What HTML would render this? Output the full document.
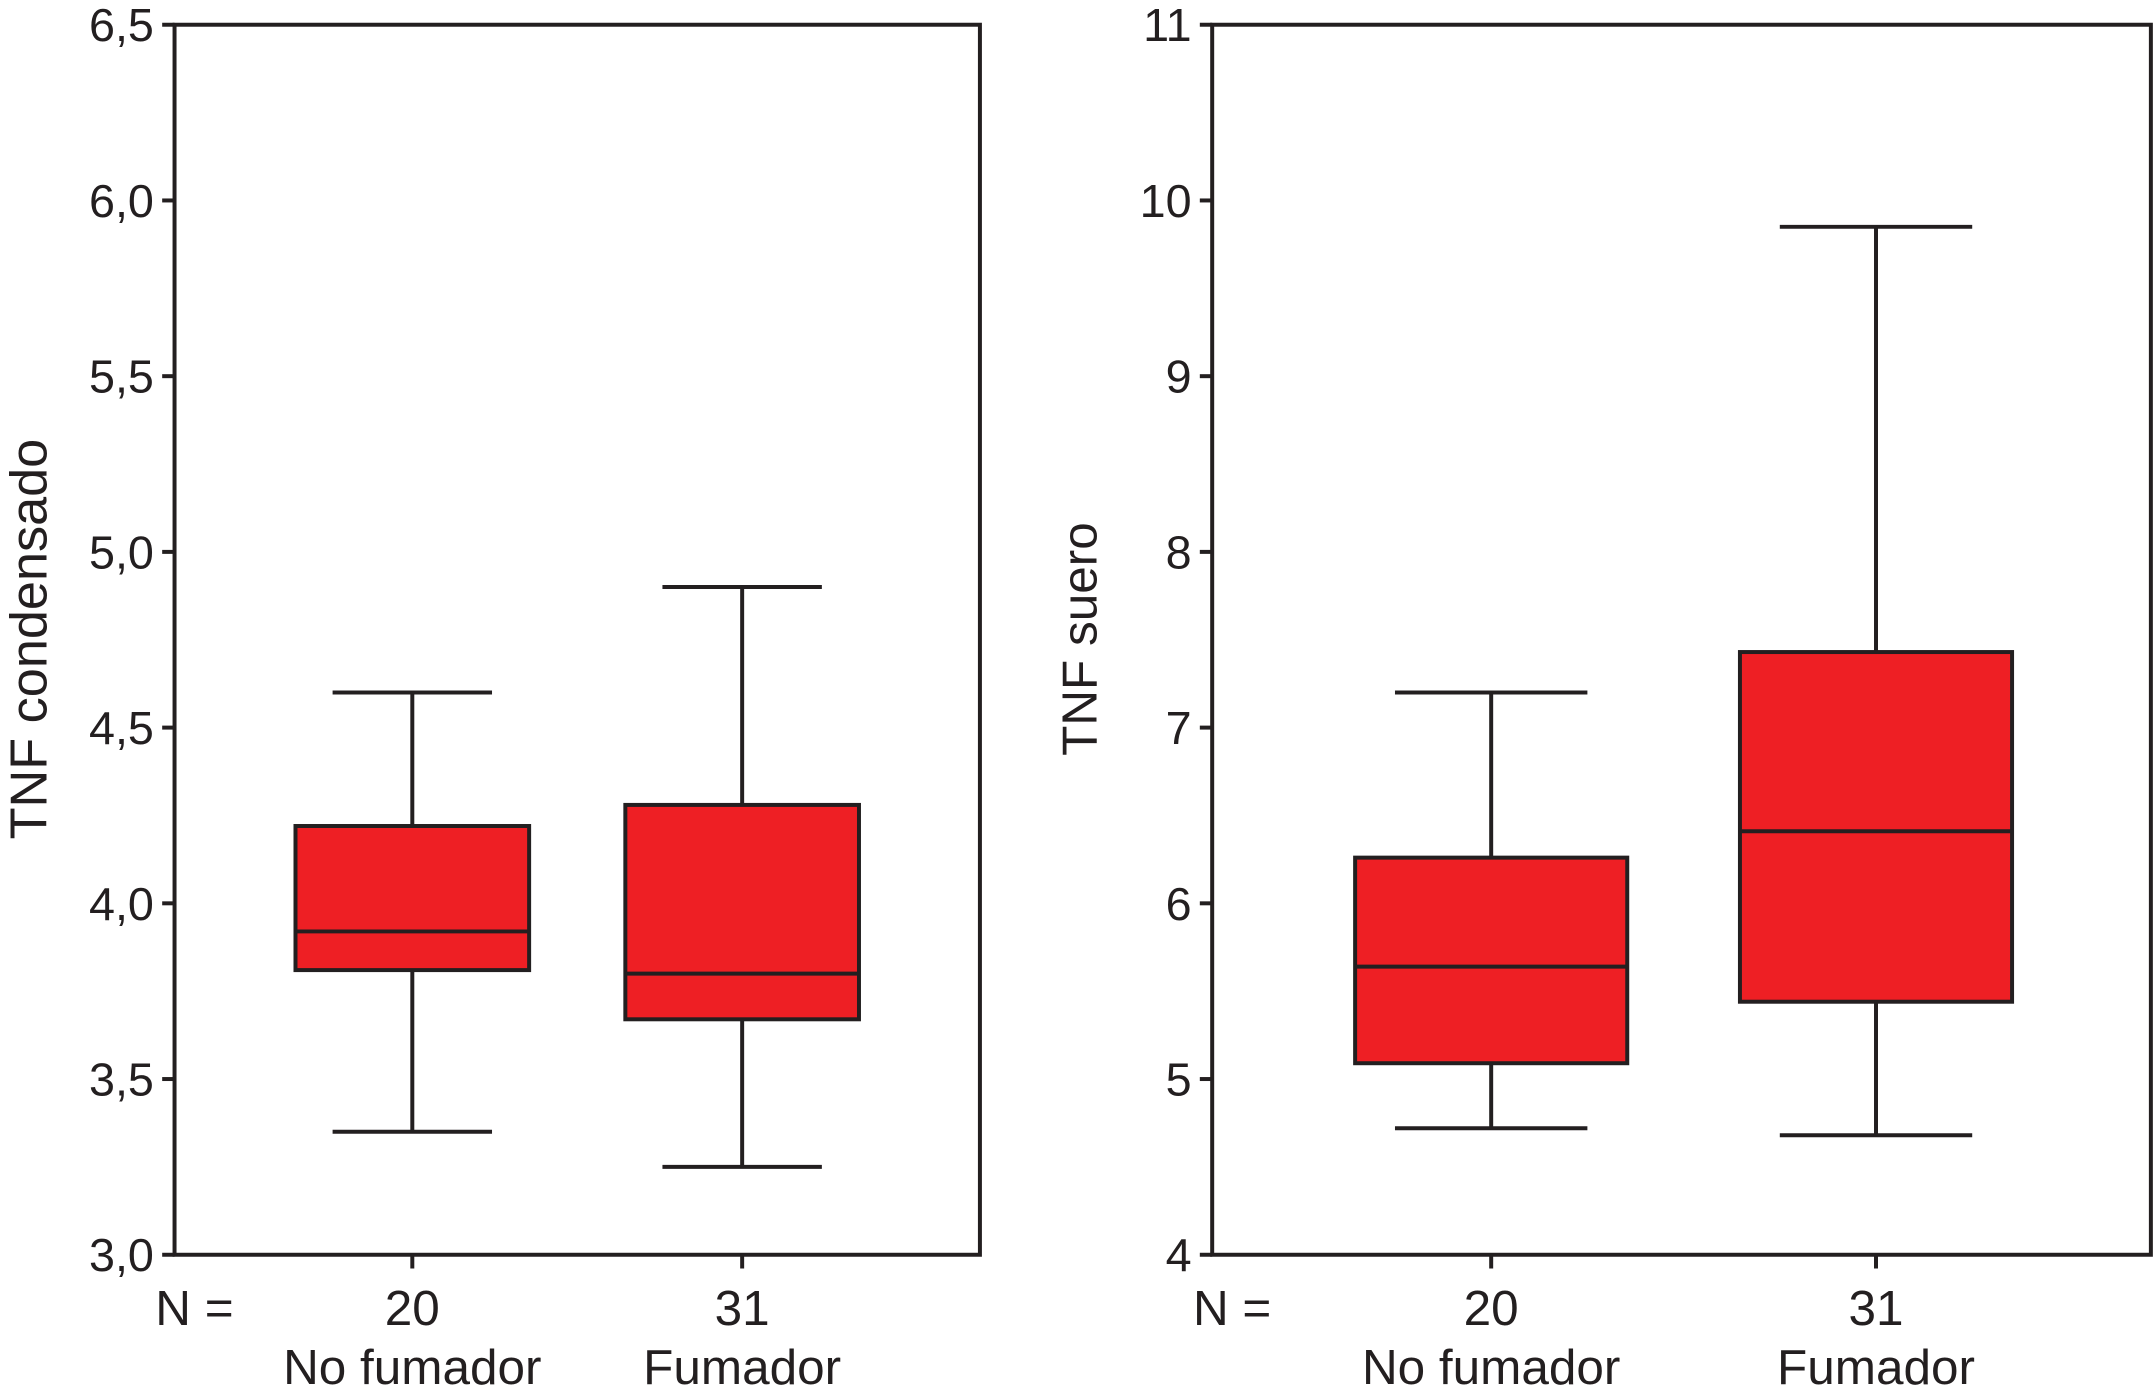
<!DOCTYPE html>
<html><head><meta charset="utf-8"><style>
html,body{margin:0;padding:0;background:#fff;}
svg{display:block;}
text{font-family:"Liberation Sans",sans-serif;fill:#231f20;}
</style></head><body>
<svg id="chart" width="2155" height="1397" viewBox="0 0 1568 1016.5" preserveAspectRatio="none" xmlns="http://www.w3.org/2000/svg"></svg>
<script>
const categories = ["No fumador", "Fumador"];
const counts = ["20", "31"];
const leftTicks = ["3,0","3,5","4,0","4,5","5,0","5,5","6,0","6,5"];
const leftTickValues = [3.0,3.5,4.0,4.5,5.0,5.5,6.0,6.5];
const leftMin = [3.35, 3.25];
const leftQ1 = [3.81, 3.67];
const leftMedian = [3.92, 3.80];
const leftQ3 = [4.22, 4.28];
const leftMax = [4.60, 4.90];
const rightTicks = ["4","5","6","7","8","9","10","11"];
const rightTickValues = [4,5,6,7,8,9,10,11];
const rightMin = [4.72, 4.68];
const rightQ1 = [5.09, 5.44];
const rightMedian = [5.64, 6.41];
const rightQ3 = [6.26, 7.43];
const rightMax = [7.20, 9.85];

const NS = "http://www.w3.org/2000/svg";
const svg = document.getElementById('chart');
function mk(tag, attrs, parent){
  const e = document.createElementNS(NS, tag);
  for (const k in attrs) e.setAttribute(k, attrs[k]);
  (parent||svg).appendChild(e);
  return e;
}
const STROKE = "#231f20", SW = 2.9;

function panel(opt){
  const g = mk('g', {});
  
  
  const top = 18, bottom = 913;
  const y = v => bottom - (v - opt.ymin) / (opt.ymax - opt.ymin) * (bottom - top);
  const x = i => opt.centers[i];
  const fr = mk('rect', {x:opt.x0, y:top, width:opt.x1-opt.x0, height:bottom-top, fill:'none', stroke:STROKE, 'stroke-width':SW}, g);
  
  
  opt.tickValues.forEach((v, i) => {
    const t = mk('line', {x1:opt.x0-9, x2:opt.x0, y1:y(v), y2:y(v), stroke:STROKE, 'stroke-width':SW}, g);
    
    
    const l = mk('text', {x:opt.x0-15, y:y(v)+12, 'text-anchor':'end', 'font-size':34}, g);
    
    
    l.textContent = opt.ticks[i];
  });
  const yt = mk('text', {x:0, y:0, 'text-anchor':'middle', 'font-size':opt.titleSize, transform:`translate(${opt.titleX},${465}) rotate(-90)`}, g);
  
  
  yt.textContent = opt.title;
  const nl = mk('text', {x:opt.x0-14, y:964, 'font-size':36}, g);
  
  
  nl.textContent = "N =";
  categories.forEach((c, i) => {
    const cx = x(i), hw = opt.boxHalf, ch = opt.capHalf;
    const tk = mk('line', {x1:cx, x2:cx, y1:bottom, y2:bottom+10, stroke:STROKE, 'stroke-width':SW}, g);
    
    
    const w1 = mk('line', {x1:cx, x2:cx, y1:y(opt.max[i]), y2:y(opt.q3[i]), stroke:STROKE, 'stroke-width':SW}, g);
    
    
    const w2 = mk('line', {x1:cx, x2:cx, y1:y(opt.q1[i]), y2:y(opt.min[i]), stroke:STROKE, 'stroke-width':SW}, g);
    
    
    const c1 = mk('line', {x1:cx-ch, x2:cx+ch, y1:y(opt.max[i]), y2:y(opt.max[i]), stroke:STROKE, 'stroke-width':SW}, g);
    
    
    const c2 = mk('line', {x1:cx-ch, x2:cx+ch, y1:y(opt.min[i]), y2:y(opt.min[i]), stroke:STROKE, 'stroke-width':SW}, g);
    
    
    const b = mk('rect', {x:cx-hw, y:y(opt.q3[i]), width:2*hw, height:y(opt.q1[i])-y(opt.q3[i]), fill:'#ee1f24', stroke:STROKE, 'stroke-width':SW}, g);
    
    
    const m = mk('line', {x1:cx-hw, x2:cx+hw, y1:y(opt.med[i]), y2:y(opt.med[i]), stroke:STROKE, 'stroke-width':SW}, g);
    
    
    const n = mk('text', {x:cx, y:964, 'text-anchor':'middle', 'font-size':36}, g);
    
    
    n.textContent = counts[i];
    const cl = mk('text', {x:cx, y:1007, 'text-anchor':'middle', 'font-size':36}, g);
    
    
    cl.textContent = c;
  });
}
panel({name:'left-panel', x0:127, x1:713, ymin:3.0, ymax:6.5, ticks:leftTicks, tickValues:leftTickValues,
  title:'TNF condensado', titleX:34, titleSize:38, centers:[300,540], boxHalf:85, capHalf:58,
  min:leftMin, q1:leftQ1, med:leftMedian, q3:leftQ3, max:leftMax});
panel({name:'right-panel', x0:882, x1:1565, ymin:4, ymax:11, ticks:rightTicks, tickValues:rightTickValues,
  title:'TNF suero', titleX:798, titleSize:36, centers:[1085,1365], boxHalf:99, capHalf:70,
  min:rightMin, q1:rightQ1, med:rightMedian, q3:rightQ3, max:rightMax});
</script>
</body></html>
